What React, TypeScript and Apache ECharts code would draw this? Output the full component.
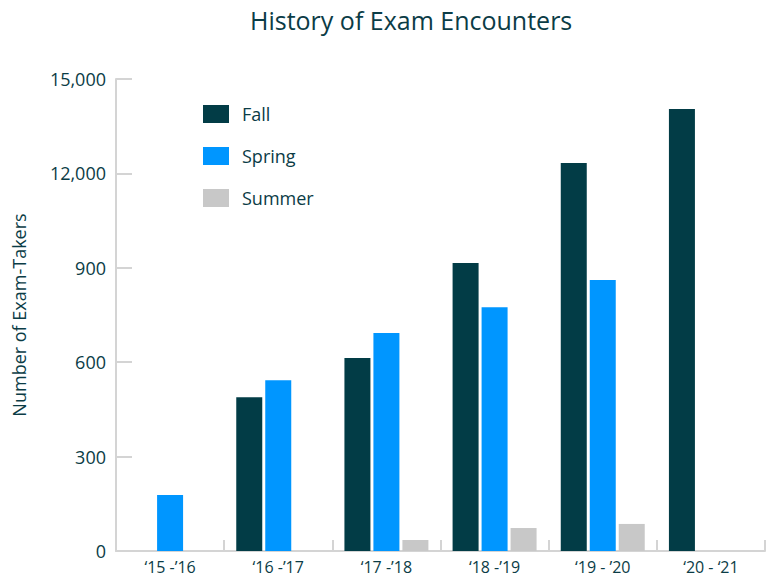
import React, { useEffect, useRef } from "react";
import * as echarts from "echarts";

const categories = ["‘15 -’16", "‘16 -’17", "‘17 -’18", "‘18 -’19", "‘19 - ’20", "‘20 - ‘21"];
const fallValues = [null, 489, 613, 915, 1233, 1405];
const springValues = [178, 543, 693, 775, 861, null];
const summerValues = [null, null, 35, 73, 86, null];
const yTickLabels = ["0", "300", "600", "900", "12,000", "15,000"];

const TEXT = "#0b3c46";
const FONT = "Open Sans";

export default function App() {
  const ref = useRef<HTMLDivElement>(null);
  useEffect(() => {
    if (!ref.current) return;
    const chart = echarts.init(ref.current, undefined, { renderer: "svg" });
    const barCommon = { type: "bar", barWidth: 26, barGap: "11.5%" };
    chart.setOption({
      animation: false,
      textStyle: { fontFamily: FONT, color: TEXT },
      graphic: [
        {
          type: "text",
          left: 250,
          top: 7,
          style: { text: "History of Exam Encounters", fontSize: 25, fill: TEXT, fontFamily: FONT },
        },
      ],
      legend: {
        orient: "vertical",
        left: 203,
        top: 105,
        itemWidth: 26,
        itemHeight: 18,
        itemGap: 24,
        padding: 0,
        icon: "rect",
        textStyle: { fontSize: 18, color: TEXT, fontFamily: FONT, padding: [0, 0, 0, 8] },
        data: ["Fall", "Spring", "Summer"],
      },
      grid: { left: 116, right: 5, top: 79, bottom: 28, containLabel: false },
      xAxis: {
        type: "category",
        data: categories,
        axisLine: { show: true, lineStyle: { color: "#d4d4d4", width: 2 } },
        axisTick: { show: true, inside: true, length: 11, lineStyle: { color: "#d4d4d4", width: 2 } },
        axisLabel: { fontSize: 16, lineHeight: 16, color: TEXT, margin: 8, fontFamily: FONT },
      },
      yAxis: {
        type: "value",
        min: 0,
        max: 1500,
        interval: 300,
        name: "Number of Exam-Takers",
        nameLocation: "middle",
        nameGap: 88,
        nameTextStyle: { fontSize: 18, color: TEXT, fontFamily: FONT },
        axisLine: { show: true, lineStyle: { color: "#d4d4d4", width: 2 } },
        axisTick: { show: true, inside: true, length: 16, lineStyle: { color: "#d4d4d4", width: 2 } },
        splitLine: { show: false },
        axisLabel: {
          fontSize: 18,
          color: TEXT,
          margin: 10,
          fontFamily: FONT,
          formatter: (v: number) => yTickLabels[Math.round(v / 300)],
        },
      },
      series: [
        { ...barCommon, name: "Fall", data: fallValues, itemStyle: { color: "#023c46" } },
        { ...barCommon, name: "Spring", data: springValues, itemStyle: { color: "#0096ff" } },
        { ...barCommon, name: "Summer", data: summerValues, itemStyle: { color: "#c8c8c8" } },
      ],
    });
    return () => chart.dispose();
  }, []);
  return (
    <div
      ref={ref}
      style={{ position: "fixed", left: 0, top: 0, width: 770, height: 579, background: "#fff" }}
    />
  );
}
